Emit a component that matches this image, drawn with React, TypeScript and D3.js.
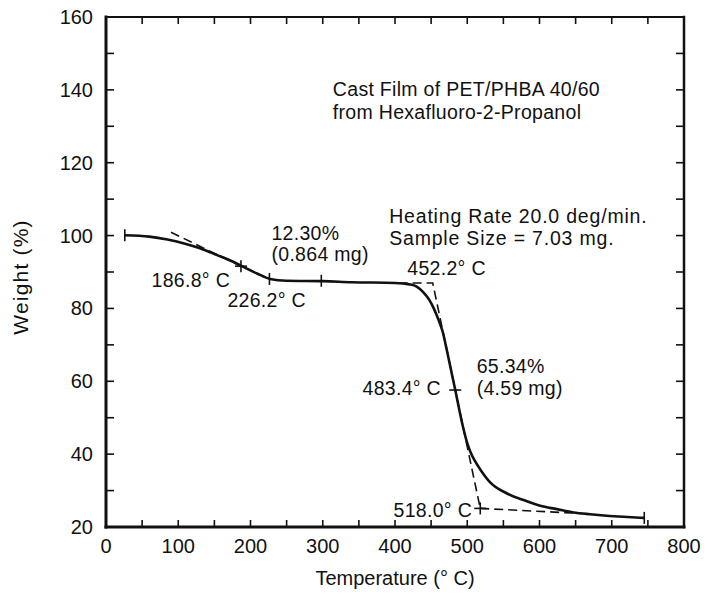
import React from 'react';
import * as d3 from 'd3';

// Thermogram (TGA) of PET/PHBA 40/60 cast film
const tempC = [26, 60, 85, 107, 130, 153, 176, 190, 209, 227, 250, 300, 340, 400, 420, 430, 439, 447, 453, 460, 466, 472, 483.4, 494, 500, 505, 511, 518, 531, 555, 578, 601, 624, 647, 670, 693, 716, 745];
const weightPct = [100.1, 99.7, 98.9, 97.9, 96.5, 94.7, 92.8, 91.4, 89.6, 88.1, 87.6, 87.5, 87.2, 87.0, 86.6, 86.0, 84.5, 82.5, 80.3, 77.0, 73.6, 68.3, 57.6, 47.6, 43.0, 40.3, 38.0, 35.8, 32.4, 29.2, 27.4, 25.8, 24.9, 24.0, 23.5, 23.1, 22.8, 22.5];

// tangent construction lines (dashed)
const tangent1T = [90, 186.8];
const tangent1W = [100.9, 91.6];
const tangent2T = [405, 452.2, 518];
const tangent2W = [87.0, 87.0, 25.1];
const tangent3T = [518, 660];
const tangent3W = [25.1, 23.7];

// markers on the curve: v = vertical tick, h = horizontal tick, + = cross
const markerT = [26, 186.8, 226.2, 298, 483.4, 518, 745];
const markerW = [100.1, 91.6, 88.1, 87.6, 57.6, 25.1, 22.5];
const markerKind = ['v', '+', 'v', 'v', 'h', '+', 'v'];

const xTickLabels = [0, 100, 200, 300, 400, 500, 600, 700, 800];
const yTickLabels = [20, 40, 60, 80, 100, 120, 140, 160];

const annotationText = ['186.8° C', '226.2° C', '12.30%', '(0.864 mg)', '452.2° C', '483.4° C', '65.34%', '(4.59 mg)', '518.0° C', 'Cast Film of PET/PHBA 40/60', 'from Hexafluoro-2-Propanol', 'Heating Rate 20.0 deg/min.', 'Sample Size = 7.03 mg.'];
// anchor in data units (T, W) for each annotation (left edge, baseline)
const annotationT = [63, 168, 229, 229, 417, 355, 513, 513, 398, 314, 314, 392, 392];
const annotationW = [86.0, 80.4, 98.8, 92.9, 89.2, 56.2, 62.3, 56.2, 22.8, 138.3, 132.0, 103.4, 97.4];
const annotationTracking = [0.3, 0.3, 0.3, 0.3, 0.3, 0.3, 0.3, 0.3, 0.3, 0.3, 0.3, 0.8, 0.8];

const FONT = '"Liberation Sans", Arial, Helvetica, sans-serif';

export default function App() {
  const x = d3.scaleLinear().domain([0, 800]).range([106, 684]);
  const y = d3.scaleLinear().domain([20, 160]).range([527, 17]);
  const [x0, x1] = x.range();
  const [y0, y1] = y.range();

  const line = d3
    .line<number>()
    .x((_, i) => x(tempC[i]))
    .y((_, i) => y(weightPct[i]))
    .curve(d3.curveMonotoneX);

  const seg = (ts: number[], ws: number[]) =>
    d3.line<number>().x((_, i) => x(ts[i])).y((_, i) => y(ws[i]))(ts) || '';

  const xMinor = d3.range(50, 800, 50);
  const yMinor = d3.range(30, 160, 10);

  return (
    <svg width={708} height={598} style={{ position: 'absolute', left: 0, top: 0, background: '#fff' }} fontFamily={FONT}>
      <rect x={0} y={0} width={708} height={598} fill="#fff" />
      {/* frame */}
      <g stroke="#111" strokeLinecap="square">
        <line x1={x0} y1={y0} x2={x0} y2={y1} strokeWidth={3} />
        <line x1={x0} y1={y0} x2={x1} y2={y0} strokeWidth={3} />
        <line x1={x0} y1={y1} x2={x1} y2={y1} strokeWidth={2} />
        <line x1={x1} y1={y0} x2={x1} y2={y1} strokeWidth={2.5} />
      </g>
      {/* ticks */}
      <g stroke="#111" strokeWidth={1.6}>
        {xMinor.map((t) => (
          <g key={'xt' + t}>
            <line x1={x(t)} x2={x(t)} y1={y0} y2={y0 - 7} />
            <line x1={x(t)} x2={x(t)} y1={y1} y2={y1 + 7} />
          </g>
        ))}
        {yMinor.map((w) => (
          <g key={'yt' + w}>
            <line x1={x0} x2={x0 + 8} y1={y(w)} y2={y(w)} />
            <line x1={x1} x2={x1 - 8} y1={y(w)} y2={y(w)} />
          </g>
        ))}
      </g>
      {/* tick labels */}
      <g fontSize={20} fill="#111">
        {xTickLabels.map((t) => (
          <text key={'xl' + t} x={x(t)} y={553} textAnchor="middle">
            {t}
          </text>
        ))}
        {yTickLabels.map((w) => (
          <text key={'yl' + w} x={93} y={y(w) + 7} textAnchor="end">
            {w}
          </text>
        ))}
      </g>
      {/* axis titles */}
      <text x={395} y={585} fontSize={20} textAnchor="middle" fill="#111">
        Temperature (° C)
      </text>
      <text transform={`translate(28, 277) rotate(-90)`} fontSize={21} letterSpacing={1.2} textAnchor="middle" fill="#111">
        Weight (%)
      </text>
      {/* tangent lines */}
      <g fill="none" stroke="#111" strokeWidth={1.6} strokeDasharray="9 5">
        <path d={seg(tangent1T, tangent1W)} />
        <path d={seg(tangent2T, tangent2W)} />
        <path d={seg(tangent3T, tangent3W)} />
      </g>
      {/* curve */}
      <path d={line(tempC) || ''} fill="none" stroke="#111" strokeWidth={2.6} />
      {/* markers */}
      <g stroke="#111" strokeWidth={1.6}>
        {markerT.map((t, i) => {
          const cx = x(t);
          const cy = y(markerW[i]);
          const k = markerKind[i];
          return (
            <g key={'m' + i}>
              {(k === 'v' || k === '+') && <line x1={cx} x2={cx} y1={cy - 6} y2={cy + 6} />}
              {(k === 'h' || k === '+') && <line x1={cx - 6} x2={cx + 6} y1={cy} y2={cy} />}
            </g>
          );
        })}
      </g>
      {/* annotations */}
      <g fontSize={19.5} fill="#111">
        {annotationText.map((s, i) => (
          <text key={'a' + i} x={x(annotationT[i])} y={y(annotationW[i])} letterSpacing={annotationTracking[i]}>
            {s}
          </text>
        ))}
      </g>
    </svg>
  );
}
